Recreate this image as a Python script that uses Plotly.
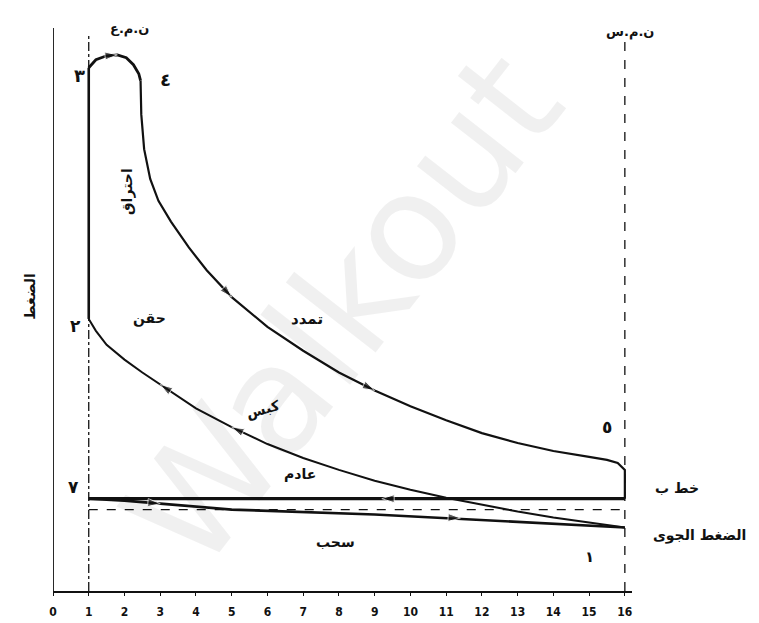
import plotly.graph_objects as go

# ---------------- data (volume v, pressure p) ----------------
tick_vals = list(range(0, 17))
tick_text = [str(i) for i in tick_vals]

# combustion at constant volume (2 -> 3)
v_23 = [1.0, 1.0]
p_23 = [27.4, 52.7]

# combustion top curve (3 -> 4)
v_34 = [1.0, 1.2, 1.5, 1.8, 2.05, 2.25, 2.4, 2.45]
p_34 = [52.7, 53.5, 53.9, 54.0, 53.7, 53.0, 52.1, 51.4]

# expansion (4 -> 5) and blow-down (5 -> 6)
v_exp = [2.45, 2.47, 2.55, 2.72, 2.95, 3.3, 3.8, 4.3, 5.0, 6.0, 7.0, 8.0, 9.0,
         10.0, 11.0, 12.0, 13.0, 14.0, 15.0, 15.5, 15.8, 16.0, 16.0]
p_exp = [51.4, 48.0, 44.5, 41.5, 39.3, 37.2, 34.6, 32.3, 29.6, 26.6, 24.2, 22.0,
         20.2, 18.6, 17.2, 15.9, 14.9, 14.1, 13.5, 13.2, 12.9, 12.2, 9.3]

# exhaust (6 -> 7)
v_exh = [16.0, 1.0]
p_exh = [9.3, 9.3]

# intake (7 -> 1)
v_int = [1.0, 2.0, 3.0, 5.0, 9.0, 12.4, 16.0]
p_int = [9.3, 9.1, 8.8, 8.2, 7.7, 7.1, 6.4]

# compression (1 -> 2)
v_cmp = [16.0, 15.0, 14.0, 13.0, 12.0, 11.0, 10.0, 9.0, 8.0, 7.0, 6.0, 5.0,
         4.0, 3.0, 2.5, 2.0, 1.5, 1.2, 1.05, 1.0]
p_cmp = [6.4, 6.9, 7.4, 8.0, 8.7, 9.4, 10.2, 11.1, 12.2, 13.4, 14.8, 16.5,
         18.4, 20.8, 22.0, 23.3, 24.8, 26.2, 27.0, 27.4]

# atmospheric pressure line
v_atm = [1.0, 16.0]
p_atm = [8.2, 8.2]

# dead-centre lines
v_tdc = [1.0, 1.0]
v_bdc = [16.0, 16.0]
p_dc = [0.0, 56.0]

# y axis line
v_yax = [0.0, 0.0]
p_yax = [0.0, 56.7]

INK = "#111111"
fig = go.Figure()

# watermark (drawn first, underneath)
fig.add_annotation(text="Walkout", x=0.5, y=0.5, xref="paper", yref="paper",
                   xanchor="center", yanchor="middle", showarrow=False,
                   textangle=-52, font=dict(family="DejaVu Sans", size=150, color="rgba(0,0,0,0.06)"))

def line(vx, py, width=2, dash="solid", color=INK):
    fig.add_trace(go.Scatter(x=vx, y=py, mode="lines",
                             line=dict(color=color, width=width, dash=dash),
                             hoverinfo="skip", showlegend=False))

line(v_yax, p_yax, 1.8)
line(v_tdc, p_dc, 1.3, "dashdot")
line(v_bdc, p_dc, 1.3, "dash")
line(v_atm, p_atm, 1.3, "dash")
line(v_23, p_23, 2.6)
line(v_34, p_34, 2.8)
line(v_exp, p_exp, 2.2)
line(v_exh, p_exh, 3.2)
line(v_int, p_int, 2.6)
line(v_cmp, p_cmp, 2.0)

# direction arrows on the curves
def arrow(vx, py, i, size=13):
    fig.add_trace(go.Scatter(x=[vx[i - 1], vx[i]], y=[py[i - 1], py[i]], mode="markers",
                             marker=dict(symbol="arrow", size=[0, size], color=INK,
                                         angleref="previous"),
                             hoverinfo="skip", showlegend=False))

arrow(v_34, p_34, 3)
arrow(v_exp, p_exp, 8)
arrow(v_exp, p_exp, 12)
arrow(v_cmp, p_cmp, 13)
arrow(v_cmp, p_cmp, 11)
for xs, ys in (([12.0, 9.2], [9.3, 9.3]), ([10.0, 11.4], [7.56, 7.35]), ([2.0, 3.0], [9.1, 8.8])):
    fig.add_trace(go.Scatter(x=xs, y=ys, mode="markers",
                             marker=dict(symbol="arrow", size=[0, 13], color=INK, angleref="previous"),
                             hoverinfo="skip", showlegend=False))

AR = "DejaVu Sans"
XMAX = 16.2
def label(text, x, y, size=15, angle=0):
    fig.add_annotation(text=text, x=x / XMAX, y=y, xref="paper", yref="y", showarrow=False,
                       xanchor="center", yanchor="middle",
                       textangle=angle, font=dict(family=AR, size=size, color=INK))

label("<b>ن.م.ع</b>", 2.15, 56.6, 13)
label("<b>ن.م.س</b>", 16.15, 56.3, 13)
label("<b>٣</b>", 0.75, 51.9, 18)
label("<b>٤</b>", 3.16, 51.5, 18)
label("<b>احتراق</b>", 2.1, 40.2, 14, -90)
label("<b>٢</b>", 0.62, 26.7, 17)
label("<b>حقن</b>", 2.7, 27.4, 14)
label("<b>تمدد</b>", 7.1, 27.4, 15)
label("<b>كبس</b>", 5.9, 18.3, 14, -15)
label("<b>٥</b>", 15.5, 16.5, 17)
label("<b>عادم</b>", 6.9, 11.8, 14)
label("<b>٧</b>", 0.56, 10.5, 17)
label("<b>سحب</b>", 7.9, 4.9, 14)
label("<b>١</b>", 15.0, 3.4, 15)
label("<b>خط ب</b>", 17.45, 10.4, 14)
label("<b>الضغط الجوى</b>", 18.1, 5.6, 14)
label("<b>الضغط</b>", -0.65, 29.7, 14, -90)

fig.update_layout(
    width=759, height=623,
    margin=dict(l=45, r=135, t=20, b=40),
    paper_bgcolor="white", plot_bgcolor="white",
    showlegend=False,
    xaxis=dict(range=[0, XMAX], tickvals=tick_vals, ticktext=tick_text,
               showgrid=False, zeroline=False, showline=True, linecolor=INK, linewidth=2,
               ticks="outside", ticklen=3, tickcolor=INK, ticklabelstandoff=6,
               tickfont=dict(family="DejaVu Sans Condensed", size=12, color=INK, weight="bold")),
    yaxis=dict(range=[0, 56.7], showgrid=False, zeroline=False, showline=False,
               showticklabels=False, ticks=""),
)

fig.write_html("out.html")
